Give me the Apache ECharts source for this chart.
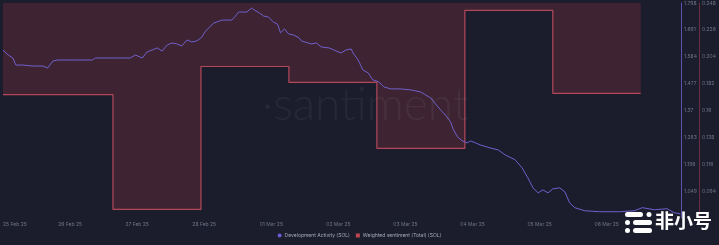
<!DOCTYPE html>
<html><head><meta charset="utf-8">
<script src="https://cdn.jsdelivr.net/npm/echarts@6/dist/echarts.min.js"></script>
<style>html,body{margin:0;padding:0;background:#1b1d2d;}#c{width:719px;height:245px;}</style>
</head><body><div id="c"></div>
<script>
// ---- data ----
const xTickLabels = ['25 Feb 25','26 Feb 25','27 Feb 25','28 Feb 25','01 Mar 25','02 Mar 25','03 Mar 25','04 Mar 25','05 Mar 25','06 Mar 25'];
const devHours = [0,1.4,2.7,3.5,5.4,8.1,10.9,12.2,13.6,14.9,19.0,24.4,25.2,29.8,34.7,36.1,38.0,39.3,40.7,42.1,43.4,44.8,46.1,47.5,48.8,50.2,51.5,52.9,54.3,55.1,56.4,57.5,58.3,59.7,62.4,63.2,64.3,66.5,67.8,68.6,70.0,71.1,72.4,73.8,74.9,75.7,76.8,77.9,79.2,80.8,81.4,84.1,85.5,86.8,89.0,90.9,92.2,93.6,95.0,95.5,96.9,98.2,99.6,100.9,102.5,103.9,105.8,108.5,111.2,112.6,113.9,115.3,116.7,118.0,119.4,120.7,122.1,122.9,124.0,125.3,126.7,127.5,128.9,130.2,132.9,135.1,137.0,139.7,141.6,143.2,144.6,146.0,147.3,148.7,150.0,151.9,153.3,154.6,156.0,158.7,162.8,168.2,172.3,174.4,177.7,181.2,183.1,184.8];
const devValues = [1.611,1.591,1.579,1.551,1.551,1.547,1.547,1.539,1.567,1.571,1.571,1.571,1.579,1.579,1.579,1.591,1.579,1.603,1.611,1.619,1.607,1.631,1.639,1.635,1.627,1.651,1.643,1.647,1.663,1.683,1.703,1.718,1.722,1.730,1.730,1.742,1.762,1.762,1.778,1.770,1.758,1.746,1.742,1.722,1.714,1.679,1.695,1.675,1.671,1.659,1.647,1.635,1.639,1.623,1.619,1.607,1.599,1.611,1.615,1.599,1.571,1.531,1.520,1.492,1.484,1.464,1.456,1.456,1.452,1.448,1.444,1.432,1.420,1.396,1.372,1.352,1.325,1.293,1.265,1.249,1.241,1.249,1.241,1.233,1.221,1.213,1.193,1.174,1.142,1.102,1.062,1.042,1.054,1.042,1.058,1.062,1.046,1.002,0.983,0.971,0.967,0.967,0.971,0.983,0.975,0.979,0.963,0.959];
const sentStartHours = [0,30,54,78,102,126,150];
const sentEndHour = 174;
const sentValues = [0.173,0.079,0.196,0.183,0.129,0.242,0.174];

// ---- build ----
const devData = devHours.map((h,i)=>[h,devValues[i]]);
const sentData = sentStartHours.map((h,i)=>[h,sentValues[i]]);
sentData.push([sentEndHour, sentValues[sentValues.length-1]]);
const devLast = devValues[devValues.length-1];
const sentLast = sentValues[sentValues.length-1];

const DEV = '#6f60cc', SENT = '#b4475a', LAB = '#6f7486';
const chart = echarts.init(document.getElementById('c'), null, {renderer:'canvas'});
chart.setOption({
  backgroundColor:'#1b1d2d',
  animation:false,
  textStyle:{fontFamily:'Inter, Roboto, sans-serif'},
  grid:{left:0,right:37,top:3,bottom:27},
  legend:{
    bottom:2, left:'center', itemWidth:4, itemHeight:4, itemGap:6,
    textStyle:{color:'#a6aaba', fontSize:5, padding:[0,0,0,-2]},
    data:[{name:'Development Activity (SOL)', icon:'circle'},{name:'Weighted sentiment (Total) (SOL)', icon:'rect'}]
  },
  xAxis:{
    type:'value', min:0, max:185, interval:18.3,
    axisLine:{show:false, onZero:false}, axisTick:{show:false}, splitLine:{show:false},
    axisLabel:{color:LAB, fontSize:5, margin:4, showMaxLabel:false, alignMinLabel:'left',
      formatter:(v)=>{const i=Math.round(v/18.3); return xTickLabels[i]||'';}}
  },
  yAxis:[
    {type:'value', position:'right', min:0.942, max:1.798, interval:0.107,
     axisLine:{show:true, onZero:false, lineStyle:{color:'#5d52b0', width:1}}, axisTick:{show:false}, splitLine:{show:false},
     axisLabel:{color:LAB, fontSize:5, margin:3, showMinLabel:false, formatter:(v)=>String(+v.toFixed(3))}},
    {type:'value', position:'right', offset:18, min:0.072, max:0.248, interval:0.022,
     axisLine:{show:true, onZero:false, lineStyle:{color:'#6a2e3c', width:1}}, axisTick:{show:false}, splitLine:{show:false},
     axisLabel:{color:LAB, fontSize:5, margin:3, showMinLabel:false, formatter:(v)=>String(+v.toFixed(3))}}
  ],
  series:[
    {name:'Weighted sentiment (Total) (SOL)', type:'line', yAxisIndex:1, step:'end', data:sentData,
     symbol:'none', lineStyle:{color:SENT, width:1.2}, itemStyle:{color:'#c0474f'},
     areaStyle:{color:'#3e2432', opacity:1, origin:'end'},
     markLine:{silent:true, symbol:'none', lineStyle:{opacity:0},
       data:[{yAxis:sentLast}],
       label:{show:true, position:'end', distance:20, formatter:()=>String(sentLast), color:'#fff', fontSize:4,
         backgroundColor:'#d9545f', padding:[1,2], borderRadius:1}}},
    {name:'Development Activity (SOL)', type:'line', yAxisIndex:0, data:devData,
     symbol:'none', lineStyle:{color:DEV, width:1}, itemStyle:{color:'#6b5cd6'},
     markLine:{silent:true, symbol:'none', lineStyle:{opacity:0},
       data:[{yAxis:devLast}],
       label:{show:true, position:'end', distance:1, formatter:()=>String(devLast), color:'#fff', fontSize:4,
         backgroundColor:'#7a66e6', padding:[1,2], borderRadius:1}}}
  ],
  graphic:[
    {type:'text', left:262, top:82, z:50, silent:true,
     style:{text:'·santiment', fill:'rgba(255,255,255,0.05)', font:'300 46px Lato, sans-serif'}},
    {type:'group', left:625, top:212, z:100, children:[
      {type:'rect', shape:{x:0,y:1,width:18,height:5,r:2.5}, style:{fill:'#fff'}},
      {type:'circle', shape:{cx:24,cy:3.5,r:2.5}, style:{fill:'#fff'}},
      {type:'circle', shape:{cx:2.5,cy:11.5,r:2.5}, style:{fill:'#fff'}},
      {type:'rect', shape:{x:8,y:9,width:19,height:5,r:2.5}, style:{fill:'#fff'}},
      {type:'circle', shape:{cx:2.5,cy:19.5,r:2.5}, style:{fill:'#fff'}},
      {type:'rect', shape:{x:8,y:17,width:19,height:5,r:2.5}, style:{fill:'#fff'}}
    ]},
    {type:'text', left:655, top:211, z:100, silent:true,
     style:{text:'非小号', fill:'#ffffff', font:'bold 19px "Noto Sans CJK SC", sans-serif'}}
  ]
});
</script></body></html>
